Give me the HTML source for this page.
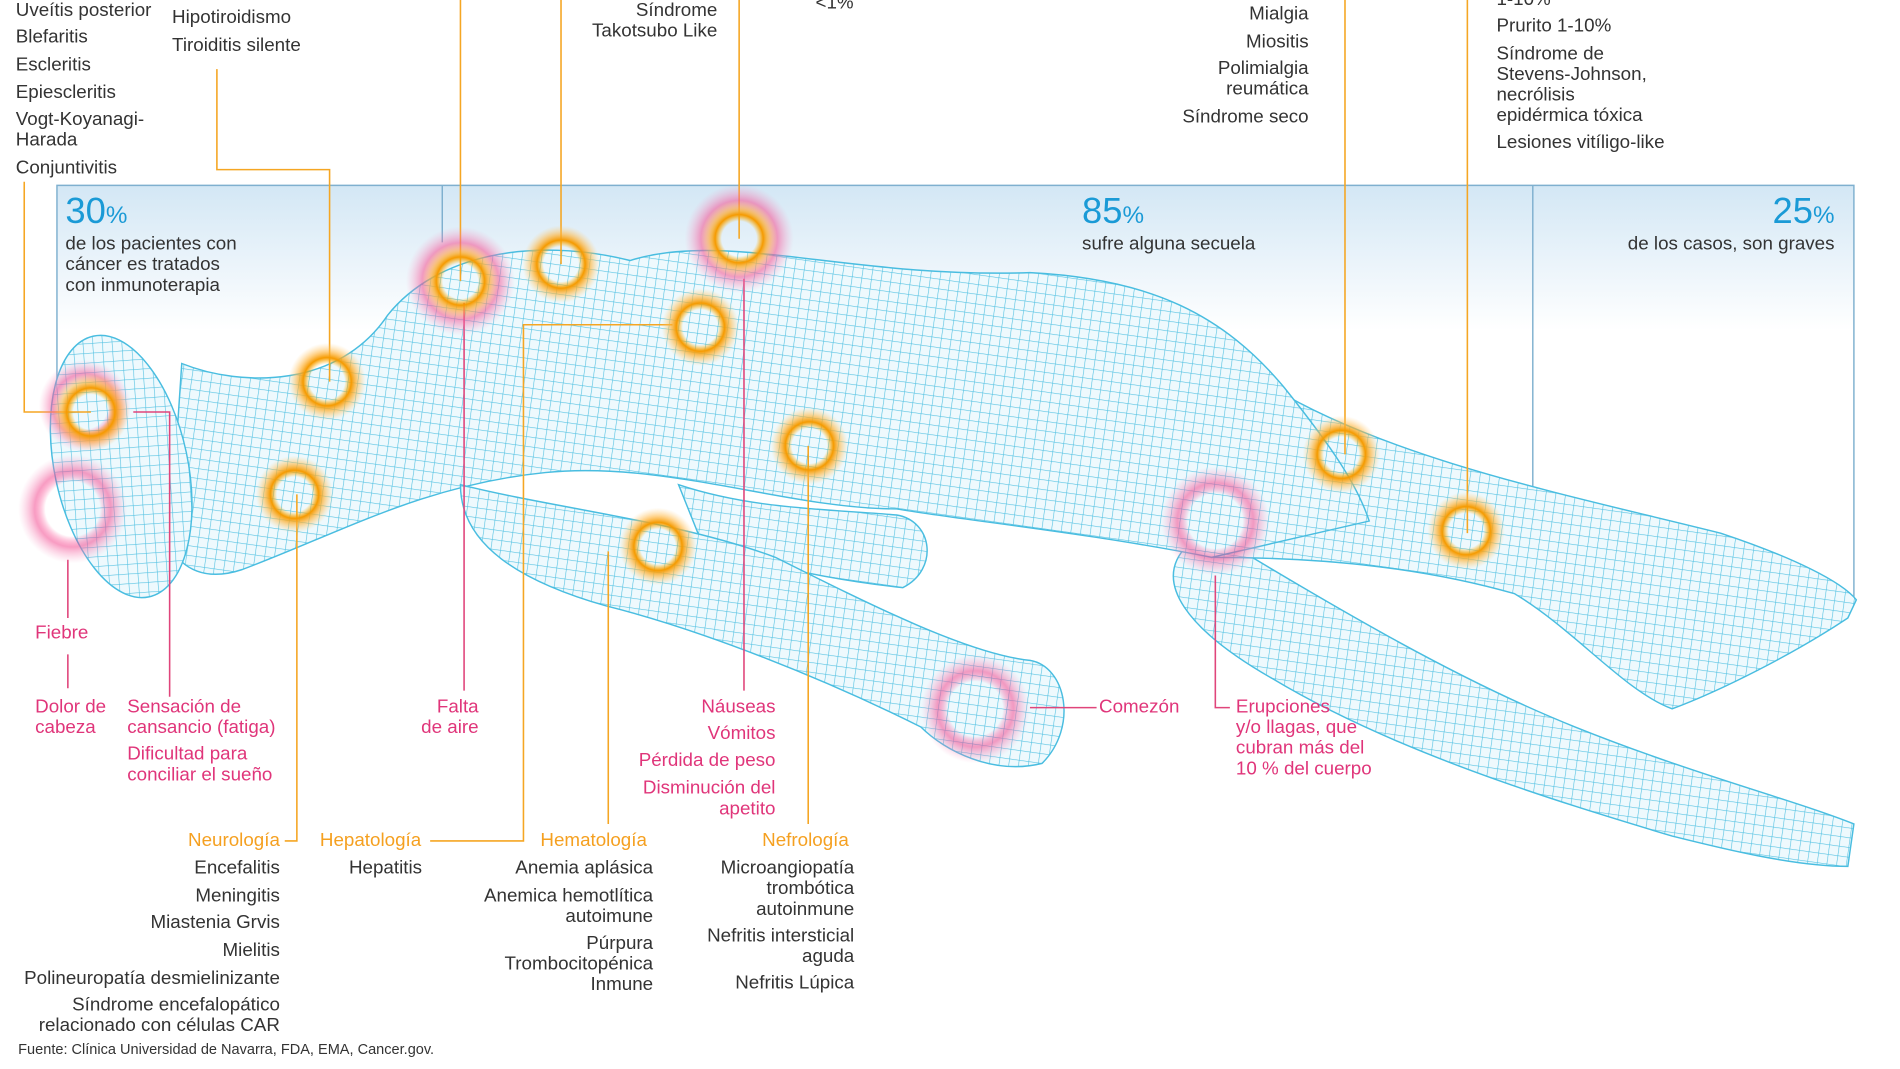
<!DOCTYPE html>
<html><head><meta charset="utf-8">
<style>
html,body{margin:0;padding:0;background:#fff;overflow:hidden}
#w{position:relative;width:1568px;height:882px;transform:scale(1.2117);transform-origin:0 0;font-family:"Liberation Sans Narrow","Liberation Sans",sans-serif;color:#333}
.t{position:absolute;font-size:15.5px;line-height:17px;white-space:nowrap}
.r{text-align:right}
.p{color:#e0357a}
.o{color:#f5a020}
.b{color:#1a9ad6;font-size:30px;line-height:30px}
.b small{font-size:20px}
svg{position:absolute;left:0;top:0}
</style></head><body><div id="w">
<svg width="1568" height="882" viewBox="0 0 1568 882">
<defs>
<linearGradient id="bg" x1="0" y1="0" x2="0" y2="1"><stop offset="0" stop-color="#d3e7f5"/><stop offset="1" stop-color="#fff"/></linearGradient>
<pattern id="g" width="8" height="8" patternUnits="userSpaceOnUse" patternTransform="rotate(8)"><rect width="8" height="8" fill="#eef9fd"/><path d="M0 0H8M0 0V8" stroke="#55c2e2" stroke-width="1"/></pattern>
<radialGradient id="og"><stop offset="0.45" stop-color="#ffb000" stop-opacity="0"/><stop offset="0.62" stop-color="#f59a00"/><stop offset="0.78" stop-color="#ffb43a" stop-opacity="0.6"/><stop offset="1" stop-color="#ffd080" stop-opacity="0"/></radialGradient>
<radialGradient id="pg"><stop offset="0.5" stop-color="#f06" stop-opacity="0"/><stop offset="0.7" stop-color="#f35a9a" stop-opacity="0.6"/><stop offset="1" stop-color="#f8a0c8" stop-opacity="0"/></radialGradient>
</defs>
<rect x="47" y="153" width="1483" height="120" fill="url(#bg)"/>
<path d="M47 400V153H1530V495M365 153V200M1265 153V460" fill="none" stroke="#7fb0cf" stroke-width="1.2"/>
<g fill="url(#g)" stroke="#49bde0" stroke-width="1.2">
<path d="M1000 440C1100 500 1200 560 1300 600C1400 640 1480 660 1530 680L1525 715C1480 715 1420 700 1380 690C1280 660 1150 620 1050 560C980 520 950 480 980 450Z"/>
<path d="M1050 320C1150 380 1300 410 1420 440C1480 460 1520 480 1532 495L1525 510C1480 540 1420 570 1380 585C1340 570 1300 520 1250 490C1180 470 1100 460 1000 460Z"/>
<path d="M150 300C200 320 280 320 320 260C360 210 440 195 520 215C600 190 700 230 850 225C950 230 1010 260 1060 320C1100 370 1120 400 1130 430L1000 460C900 440 800 430 740 420C650 420 550 380 450 390C350 400 280 440 200 470C170 480 150 470 140 450Z"/>
<path d="M560 400C620 420 680 420 740 425C770 430 775 470 745 485C700 480 640 470 580 450Z"/>
<path d="M380 400C460 420 560 430 640 460C720 500 800 540 850 545C880 550 890 600 860 630C820 640 780 620 760 600C680 560 580 520 500 500C430 480 380 450 380 400Z"/>
<ellipse cx="100" cy="385" rx="55" ry="110" transform="rotate(-12 100 385)"/>
</g>
<g fill="none" stroke="#f5a623" stroke-width="1.3">
<path d="M20 150V340H75M179 57V140H272V315M380 0V232M463 0V218M610 0V197M1110 0V375M1211 0V440"/>
<path d="M245 408V694H235M355 694H432V268H555M502 455V680M667 368V680"/>
</g>
<g fill="none" stroke="#e0457b" stroke-width="1.3">
<path d="M56 462V510M56 540V568M110 340H140V575M383 250V570M614 230V570M850 584H905M1003 475V584H1015"/>
</g>
<g>
<circle cx="70" cy="335" r="38" fill="url(#pg)"/><circle cx="60" cy="420" r="45" fill="url(#pg)"/>
<circle cx="380" cy="232" r="45" fill="url(#pg)"/><circle cx="610" cy="197" r="45" fill="url(#pg)"/>
<circle cx="805" cy="585" r="45" fill="url(#pg)"/><circle cx="1003" cy="430" r="45" fill="url(#pg)"/>
<circle cx="75" cy="340" r="32" fill="url(#og)"/><circle cx="270" cy="315" r="32" fill="url(#og)"/>
<circle cx="380" cy="232" r="32" fill="url(#og)"/><circle cx="463" cy="218" r="32" fill="url(#og)"/>
<circle cx="610" cy="197" r="32" fill="url(#og)"/><circle cx="578" cy="270" r="32" fill="url(#og)"/>
<circle cx="243" cy="408" r="32" fill="url(#og)"/><circle cx="668" cy="368" r="32" fill="url(#og)"/>
<circle cx="543" cy="451" r="32" fill="url(#og)"/><circle cx="1107" cy="375" r="32" fill="url(#og)"/>
<circle cx="1210" cy="438" r="32" fill="url(#og)"/>
</g>
</svg>

<div class="t" style="left:13px;top:0">Uveítis posterior</div>
<div class="t" style="left:13px;top:22px">Blefaritis</div>
<div class="t" style="left:13px;top:45px">Escleritis</div>
<div class="t" style="left:13px;top:68px">Epiescleritis</div>
<div class="t" style="left:13px;top:90px">Vogt-Koyanagi-<br>Harada</div>
<div class="t" style="left:13px;top:130px">Conjuntivitis</div>
<div class="t" style="left:142px;top:6px">Hipotiroidismo</div>
<div class="t" style="left:142px;top:29px">Tiroiditis silente</div>
<div class="t r" style="right:976px;top:0">Síndrome<br>Takotsubo Like</div>
<div class="t" style="left:673px;top:-6px">&lt;1%</div>
<div class="t r" style="right:488px;top:3px">Mialgia</div>
<div class="t r" style="right:488px;top:26px">Miositis</div>
<div class="t r" style="right:488px;top:48px">Polimialgia<br>reumática</div>
<div class="t r" style="right:488px;top:88px">Síndrome seco</div>
<div class="t" style="left:1235px;top:-9px">1-10%</div>
<div class="t" style="left:1235px;top:13px">Prurito 1-10%</div>
<div class="t" style="left:1235px;top:36px">Síndrome de<br>Stevens-Johnson,<br>necrólisis<br>epidérmica tóxica</div>
<div class="t" style="left:1235px;top:109px">Lesiones vitíligo-like</div>

<div class="t b" style="left:54px;top:160px">30<small>%</small></div>
<div class="t" style="left:54px;top:193px">de los pacientes con<br>cáncer es tratados<br>con inmunoterapia</div>
<div class="t b" style="left:893px;top:160px">85<small>%</small></div>
<div class="t" style="left:893px;top:193px">sufre alguna secuela</div>
<div class="t b r" style="right:54px;top:160px">25<small>%</small></div>
<div class="t r" style="right:54px;top:193px">de los casos, son graves</div>

<div class="t p" style="left:29px;top:514px">Fiebre</div>
<div class="t p" style="left:29px;top:575px">Dolor de<br>cabeza</div>
<div class="t p" style="left:105px;top:575px">Sensación de<br>cansancio (fatiga)</div>
<div class="t p" style="left:105px;top:614px">Dificultad para<br>conciliar el sueño</div>
<div class="t p r" style="right:1173px;top:575px">Falta<br>de aire</div>
<div class="t p r" style="right:928px;top:575px">Náuseas</div>
<div class="t p r" style="right:928px;top:597px">Vómitos</div>
<div class="t p r" style="right:928px;top:619px">Pérdida de peso</div>
<div class="t p r" style="right:928px;top:642px">Disminución del<br>apetito</div>
<div class="t p" style="left:907px;top:575px">Comezón</div>
<div class="t p" style="left:1020px;top:575px">Erupciones<br>y/o llagas, que<br>cubran más del<br>10 % del cuerpo</div>

<div class="t o r" style="right:1337px;top:685px">Neurología</div>
<div class="t o" style="left:264px;top:685px">Hepatología</div>
<div class="t o" style="left:446px;top:685px">Hematología</div>
<div class="t o" style="left:629px;top:685px">Nefrología</div>
<div class="t r" style="right:1337px;top:708px">Encefalitis</div>
<div class="t r" style="right:1337px;top:731px">Meningitis</div>
<div class="t r" style="right:1337px;top:753px">Miastenia Grvis</div>
<div class="t r" style="right:1337px;top:776px">Mielitis</div>
<div class="t r" style="right:1337px;top:799px">Polineuropatía desmielinizante</div>
<div class="t r" style="right:1337px;top:821px">Síndrome encefalopático<br>relacionado con células CAR</div>
<div class="t" style="left:288px;top:708px">Hepatitis</div>
<div class="t r" style="right:1029px;top:708px">Anemia aplásica</div>
<div class="t r" style="right:1029px;top:731px">Anemica hemotlítica<br>autoimune</div>
<div class="t r" style="right:1029px;top:770px">Púrpura<br>Trombocitopénica<br>Inmune</div>
<div class="t r" style="right:863px;top:708px">Microangiopatía<br>trombótica<br>autoinmune</div>
<div class="t r" style="right:863px;top:764px">Nefritis intersticial<br>aguda</div>
<div class="t r" style="right:863px;top:803px">Nefritis Lúpica</div>
<div class="t" style="left:15px;top:859px;font-size:12px;line-height:14px">Fuente: Clínica Universidad de Navarra, FDA, EMA, Cancer.gov.</div>
</div></body></html>
